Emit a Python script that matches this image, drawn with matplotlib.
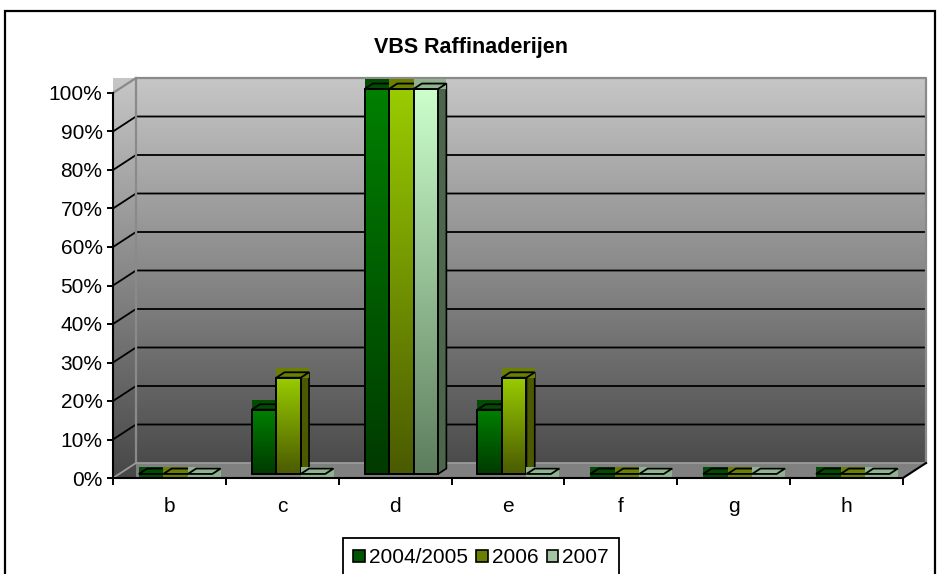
import numpy as np
import matplotlib
matplotlib.use("Agg")
import matplotlib.pyplot as plt
from matplotlib.patches import Polygon, Rectangle, Patch
from matplotlib.colors import LinearSegmentedColormap

# ---------------- data ----------------
categories = ['b', 'c', 'd', 'e', 'f', 'g', 'h']
series_names = ['2004/2005', '2006', '2007']
s2004 = [0, 16.7, 100, 16.7, 0, 0, 0]
s2006 = [0, 25, 100, 25, 0, 0, 0]
s2007 = [0, 0, 100, 0, 0, 0, 0]
y_ticks = [0, 10, 20, 30, 40, 50, 60, 70, 80, 90, 100]
y_labels = [f'{v}%' for v in y_ticks]
title = 'VBS Raffinaderijen'

# ---------------- style ----------------
plt.rcParams['font.family'] = ['Liberation Sans', 'DejaVu Sans']
FS = 15
front_top = ['#008000', '#99cc00', '#ccffcc']
front_bot = ['#003a00', '#4a5a00', '#5d7d5d']
side_col = ['#003300', '#4d5900', '#4b664b']
top_col = ['#004d00', '#6b8000', '#8fb38f']
legend_col = ['#005500', '#6b8000', '#a3c3a3']

W, H = 939, 574
fig = plt.figure(figsize=(W / 100, H / 100), dpi=100)
n = len(categories)

# depth offsets in data units
DX = 23 / (790 / n)
DY = 15 / (385 / 100)

# background axes for the wall gradient (same data units, larger extent)
ax_bg = fig.add_axes([113 / W, 96 / H, (790 + 23) / W, (385 + 15) / H])
ax_bg.set_axis_off()
grad = np.linspace(0, 1, 256).reshape(-1, 1)
wall_cmap = LinearSegmentedColormap.from_list('wall', ['#474747', '#c6c6c6'])
im = ax_bg.imshow(grad, extent=(0, n + DX, 0, 100 + DY), origin='lower',
                  aspect='auto', cmap=wall_cmap, interpolation='bilinear')
clip_poly = Polygon([(0, 0), (n, 0), (n + DX, DY), (n + DX, 100 + DY), (0, 100 + DY)],
                    closed=True, transform=ax_bg.transData)
im.set_clip_path(clip_poly)
ax_bg.set_xlim(0, n + DX)
ax_bg.set_ylim(0, 100 + DY)

ax = fig.add_axes([113 / W, 96 / H, 790 / W, 385 / H])
ax.patch.set_visible(False)

# floor
ax.add_patch(Polygon([(DX, DY), (n + DX, DY), (n, 0), (DX, 0)], closed=True,
                     fc='#808080', ec='none', zorder=1, clip_on=False))

# gridlines on back wall + left wall
for v in y_ticks[1:-1]:
    ax.plot([0, DX, n + DX], [v, v + DY, v + DY], color='black', lw=1.3,
            zorder=2, clip_on=False, solid_capstyle='butt')
edge = '#8a8a8a'
ax.plot([0, DX, n + DX, n + DX], [100, 100 + DY, 100 + DY, DY], color=edge, lw=1.6,
        zorder=2, clip_on=False)
ax.plot([DX, DX], [DY, 100 + DY], color=edge, lw=1.6, zorder=2, clip_on=False)
ax.plot([0, DX, n + DX], [0, DY, DY], color='#9a9a9a', lw=1.3, zorder=2, clip_on=False)
ax.plot([n, n + DX], [0, DY], color='black', lw=1.5, zorder=2, clip_on=False)

# bars
series = [s2004, s2006, s2007]
bw = 24.5 / (790 / n)
gap = (1 - 3 * bw) / 2
F = 0.27
D = 0.36
ddx, ddy = D * DX, D * DY
for i in range(n):
    for j, vals in enumerate(series):
        h = vals[i]
        x0 = i + gap + j * bw + F * DX
        y0 = F * DY
        # side face
        ax.add_patch(Polygon([(x0 + bw, y0), (x0 + bw + ddx, y0 + ddy),
                              (x0 + bw + ddx, y0 + h + ddy), (x0 + bw, y0 + h)],
                             closed=True, fc=side_col[j], ec='black', lw=1.2,
                             zorder=3, clip_on=False))
        # front face
        if h > 0:
            cm = LinearSegmentedColormap.from_list(f'b{j}', [front_bot[j], front_top[j]])
            bim = ax.imshow(grad, extent=(x0, x0 + bw, y0, y0 + h), origin='lower',
                            aspect='auto', cmap=cm, zorder=3, interpolation='bilinear')
            bim.set_clip_on(False)
            ax.add_patch(Rectangle((x0, y0), bw, h, fc='none', ec='black', lw=1.4,
                                   zorder=3, clip_on=False))
        # top face (with its bounding box fill)
        below = 0.9 if h == 0 else 0
        above = 0.5 if h == 0 else 1.2
        ax.add_patch(Rectangle((x0, y0 + h - below), bw + ddx, ddy + below + above,
                               fc=top_col[j], ec='none', zorder=3, clip_on=False))
        ax.add_patch(Polygon([(x0, y0 + h), (x0 + bw, y0 + h),
                              (x0 + bw + ddx, y0 + h + ddy), (x0 + ddx, y0 + h + ddy)],
                             closed=True, fc=top_col[j], ec='black', lw=1.3,
                             zorder=3, clip_on=False))

ax.set_xlim(0, n)
ax.set_ylim(0, 100)

# axes
for s in ['top', 'right']:
    ax.spines[s].set_visible(False)
for s in ['left', 'bottom']:
    ax.spines[s].set_linewidth(1.5)
    ax.spines[s].set_zorder(5)
ax.set_yticks(y_ticks)
ax.set_yticklabels(y_labels, fontsize=FS)
ax.tick_params(axis='y', length=4.5, width=1.4, pad=3)
ax.set_xticks([i + 0.5 for i in range(n)])
ax.set_xticklabels(categories, fontsize=FS)
ax.set_xticks(list(range(n + 1)), minor=True)
ax.tick_params(axis='x', which='major', length=0, pad=14)
ax.tick_params(axis='x', which='minor', length=5, width=1.4)

# title
fig.text(471 / W, 1 - 48 / H, title, ha='center', va='center', fontsize=15.5,
         fontweight='bold')

# outer border
fig.add_artist(Rectangle((5 / W, -0.05), 930 / W, (574 - 11) / H + 0.05,
                         transform=fig.transFigure, fill=False, ec='black', lw=1.6))

# legend
handles = [Patch(fc=c, ec='black', lw=1.2) for c in legend_col]
leg = fig.legend(handles, series_names, loc='upper center',
                 bbox_to_anchor=(481 / W, 1 - 538 / H), ncol=3, fontsize=FS,
                 frameon=True, fancybox=False, edgecolor='black', framealpha=1,
                 handlelength=0.55, handleheight=0.55, handletextpad=0.2,
                 columnspacing=0.4, borderpad=0.5, borderaxespad=0)
leg.get_frame().set_linewidth(1.3)

fig.savefig('out.png', dpi=100)
